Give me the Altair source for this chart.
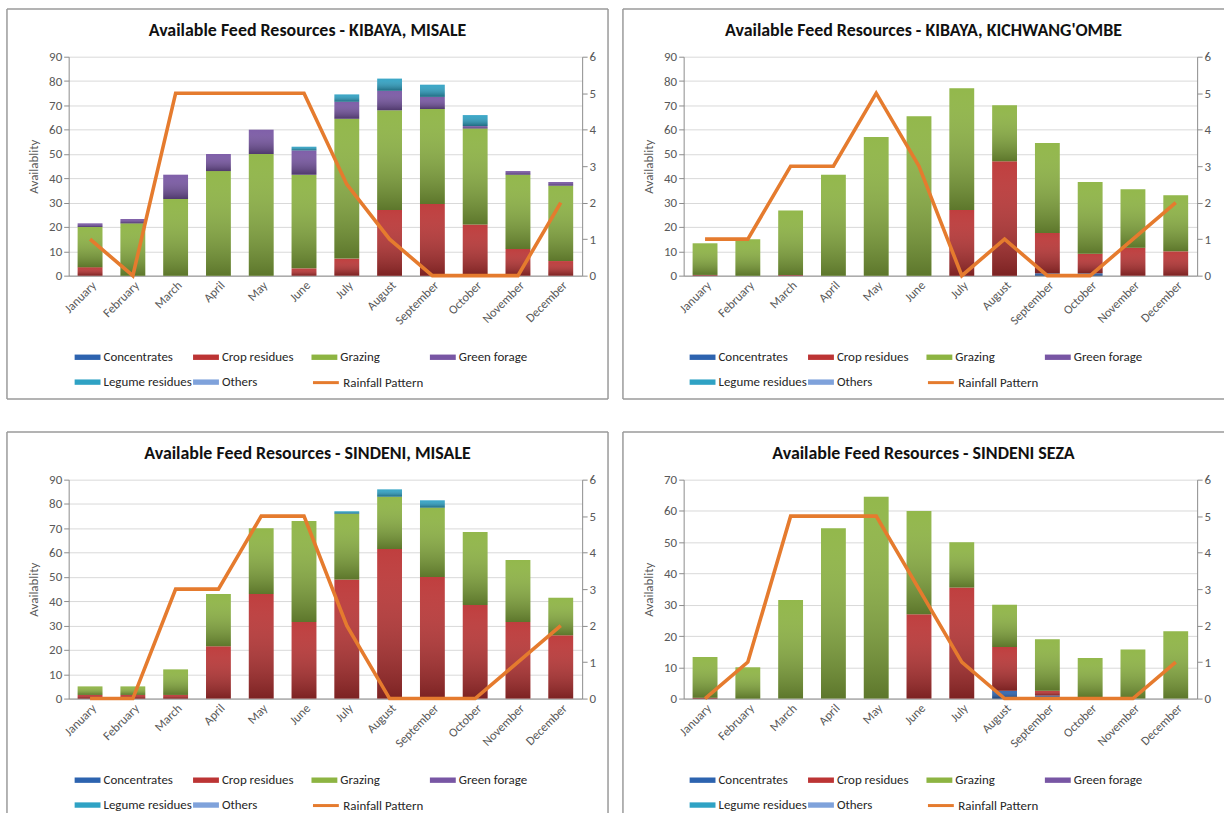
import altair as alt
import pandas as pd

FONT = "Carlito, Lato, sans-serif"

months = ["January", "February", "March", "April", "May", "June", "July",
          "August", "September", "October", "November", "December"]
categories = ["Concentrates", "Crop residues", "Grazing", "Green forage",
              "Legume residues", "Others"]
feed_colors = ["#2D63AF", "#BC3434", "#8DB442", "#7856A4", "#2FA2C4", "#7FA2DB"]
rain_color = "#E57B2E"

# KIBAYA, MISALE
km_concentrates = [0, 0, 0, 0, 0, 0, 0, 0, 0, 0, 0, 0]
km_crop = [3.5, 0, 0, 0, 0, 3, 7, 27, 29.5, 21, 11, 6]
km_grazing = [16.5, 21.5, 31.5, 43, 50, 38.5, 57.5, 41, 39, 39.5, 30.5, 31]
km_green = [1.5, 1.8, 10, 7, 10, 10, 7, 8, 5, 1, 1.5, 1.5]
km_legume = [0, 0, 0, 0, 0, 1.5, 3, 5, 5, 4.5, 0, 0]
km_others = [0, 0, 0, 0, 0, 0, 0, 0, 0, 0, 0, 0]
km_rain = [1, 0, 5, 5, 5, 5, 2.5, 1, 0, 0, 0, 2]

# KIBAYA, KICHWANG'OMBE
kk_concentrates = [0, 0, 0, 0, 0, 0, 0, 0, 1, 1, 0, 0]
kk_crop = [0.3, 0, 0.3, 0, 0, 0, 27, 47, 16.5, 8, 11.5, 10]
kk_grazing = [13, 15, 26.5, 41.5, 57, 65.5, 50, 23, 37, 29.5, 24, 23]
kk_green = [0, 0, 0, 0, 0, 0, 0, 0, 0, 0, 0, 0]
kk_legume = [0, 0, 0, 0, 0, 0, 0, 0, 0, 0, 0, 0]
kk_others = [0, 0, 0, 0, 0, 0, 0, 0, 0, 0, 0, 0]
kk_rain = [1, 1, 3, 3, 5, 3, 0, 1, 0, 0, 1, 2]

# SINDENI, MISALE
sm_concentrates = [0, 0, 0, 0, 0, 0, 0, 0, 0, 0, 0, 0]
sm_crop = [1.5, 1.5, 1.5, 21.5, 43, 31.5, 49, 61.5, 50, 38.5, 31.5, 26]
sm_grazing = [3.5, 3.5, 10.5, 21.5, 27, 41.5, 27, 21.5, 28.5, 30, 25.5, 15.5]
sm_green = [0, 0, 0, 0, 0, 0, 0, 0, 0, 0, 0, 0]
sm_legume = [0, 0, 0, 0, 0, 0, 1, 3, 3, 0, 0, 0]
sm_others = [0, 0, 0, 0, 0, 0, 0, 0, 0, 0, 0, 0]
sm_rain = [0, 0, 3, 3, 5, 5, 2, 0, 0, 0, 1, 2]

# SINDENI SEZA
ss_concentrates = [0, 0, 0, 0, 0, 0, 0, 2.5, 1, 0.5, 0, 0]
ss_crop = [0.3, 0, 0, 0, 0, 27, 35.5, 14, 1.5, 0, 0, 0]
ss_grazing = [13, 10, 31.5, 54.5, 64.5, 33, 14.5, 13.5, 16.5, 12.5, 15.7, 21.5]
ss_green = [0, 0, 0, 0, 0, 0, 0, 0, 0, 0, 0, 0]
ss_legume = [0, 0, 0, 0, 0, 0, 0, 0, 0, 0, 0, 0]
ss_others = [0, 0, 0, 0, 0, 0, 0, 0, 0, 0, 0, 0]
ss_rain = [0, 1, 5, 5, 5, 3, 1, 0, 0, 0, 0, 1]

PLOT_W, PLOT_H = 516, 220

# vertical shading laid over every bar segment (lighter top, darker base)
shade = alt.LinearGradient(
    gradient="linear",
    stops=[alt.GradientStop(color="rgba(255,255,255,0.05)", offset=0),
           alt.GradientStop(color="rgba(0,0,0,0.34)", offset=1)],
    x1=0, x2=0, y1=0, y2=1,
)

rect_symbol = "M-1.3,-0.27H1.3V0.27H-1.3Z"
line_symbol = "M-1.3,0H1.3"


def frame_rule(x, x2, y, y2):
    return alt.Chart(pd.DataFrame({"k": [0]})).mark_rule(
        color="#9A9A9A", strokeWidth=1.5
    ).encode(x=alt.value(x), x2=alt.value(x2), y=alt.value(y), y2=alt.value(y2))


def panel(title, series, rain, ymax, left, top_row, right_col):
    rows = []
    for i, m in enumerate(months):
        base = 0.0
        for cat in categories:
            v = series[cat][i]
            if v > 0:
                rows.append({"month": m, "feed": cat, "value": v,
                             "start": base, "end": base + v})
            base += v
    bars_df = pd.DataFrame(rows)
    rain_df = pd.DataFrame({"month": months, "rain": rain,
                            "series": ["Rainfall Pattern"] * 12})

    x = alt.X("month:N", sort=months,
              scale=alt.Scale(paddingInner=0.42, paddingOuter=0.21),
              axis=alt.Axis(title=None, labelAngle=-45, ticks=False,
                            labelPadding=3, labelFontSize=12.5))
    y_left = alt.Y("start:Q",
                   scale=alt.Scale(domain=[0, ymax], nice=False),
                   axis=alt.Axis(values=list(range(0, ymax + 1, 10)),
                                 title="Availablity", tickSize=5,
                                 titlePadding=8))
    bars = alt.Chart(bars_df).mark_bar().encode(
        x=x, y=y_left, y2="end:Q",
        color=alt.Color(
            "feed:N",
            scale=alt.Scale(domain=categories, range=feed_colors),
            legend=alt.Legend(
                title=None, orient="none", legendX=9, legendY=292,
                direction="horizontal", values=categories,
                columns=4, gridAlign="all", symbolType=rect_symbol,
                symbolSize=400, symbolStrokeWidth=0, labelOffset=6,
                rowPadding=8, columnPadding=1, labelFontSize=13,
                labelColor="#262626", labelFont=FONT,
            ),
        ),
    )
    bar_shade = alt.Chart(bars_df).mark_bar(color=shade).encode(
        x=x, y=y_left, y2="end:Q",
    )
    line = alt.Chart(rain_df).mark_line(strokeWidth=3.6).encode(
        x=x,
        y=alt.Y("rain:Q", scale=alt.Scale(domain=[0, 6], nice=False),
                axis=alt.Axis(orient="right", values=list(range(0, 7)),
                              grid=False, title=None, tickSize=5)),
        stroke=alt.Stroke(
            "series:N",
            scale=alt.Scale(domain=["Rainfall Pattern"], range=[rain_color]),
            legend=alt.Legend(
                title=None, orient="none", legendX=9 + 238, legendY=316,
                symbolType=line_symbol, symbolSize=400, symbolStrokeWidth=3,
                labelOffset=6, labelFontSize=13, labelColor="#262626",
                labelFont=FONT,
            ),
        ),
    )
    heading = alt.Chart(pd.DataFrame({"t": [title]})).mark_text(
        font=FONT, fontSize=18, fontWeight="bold", color="#111111",
        align="center", baseline="middle",
    ).encode(text="t:N", x=alt.value(left + 302), y=alt.value(-26))

    bottom = 344 if top_row else 335
    edges = [frame_rule(left, left, -48, bottom),
             frame_rule(left, left + 604, -48, -48)]
    if not right_col:
        edges.append(frame_rule(left + 604, left + 604, -48, bottom))
    if top_row:
        edges.append(frame_rule(left, left + 604, bottom, bottom))

    plot = alt.layer(alt.layer(bars, bar_shade), line).resolve_scale(y="independent")
    return alt.layer(plot, heading, *edges).properties(width=PLOT_W, height=PLOT_H)


def series_of(c, r, g, gf, l, o):
    return dict(zip(categories, [c, r, g, gf, l, o]))


p1 = panel("Available Feed Resources - KIBAYA, MISALE",
           series_of(km_concentrates, km_crop, km_grazing, km_green, km_legume, km_others),
           km_rain, 90, -62, True, False)
p2 = panel("Available Feed Resources - KIBAYA, KICHWANG'OMBE",
           series_of(kk_concentrates, kk_crop, kk_grazing, kk_green, kk_legume, kk_others),
           kk_rain, 90, -61, True, True)
p3 = panel("Available Feed Resources - SINDENI, MISALE",
           series_of(sm_concentrates, sm_crop, sm_grazing, sm_green, sm_legume, sm_others),
           sm_rain, 90, -62, False, False)
p4 = panel("Available Feed Resources - SINDENI SEZA",
           series_of(ss_concentrates, ss_crop, ss_grazing, ss_green, ss_legume, ss_others),
           ss_rain, 70, -61, False, True)

top = alt.hconcat(p1, p2, spacing=13).resolve_scale(color="independent", stroke="independent")
bottom_row = alt.hconcat(p3, p4, spacing=13).resolve_scale(color="independent", stroke="independent")

chart = alt.vconcat(top, bottom_row, spacing=31).resolve_scale(
    color="independent", stroke="independent"
).properties(
    padding={"left": 6, "top": 6, "right": 0, "bottom": 0},
    background="white",
).configure_view(stroke=None).configure_axis(
    labelFont=FONT, labelFontSize=13, labelColor="#595959",
    titleFont=FONT, titleFontSize=13, titleFontWeight="normal", titleColor="#595959",
    domainColor="#8C8C8C", tickColor="#8C8C8C", gridColor="#D9D9D9",
)

chart.save("out.html", embed_options={"renderer": "svg", "actions": False})
